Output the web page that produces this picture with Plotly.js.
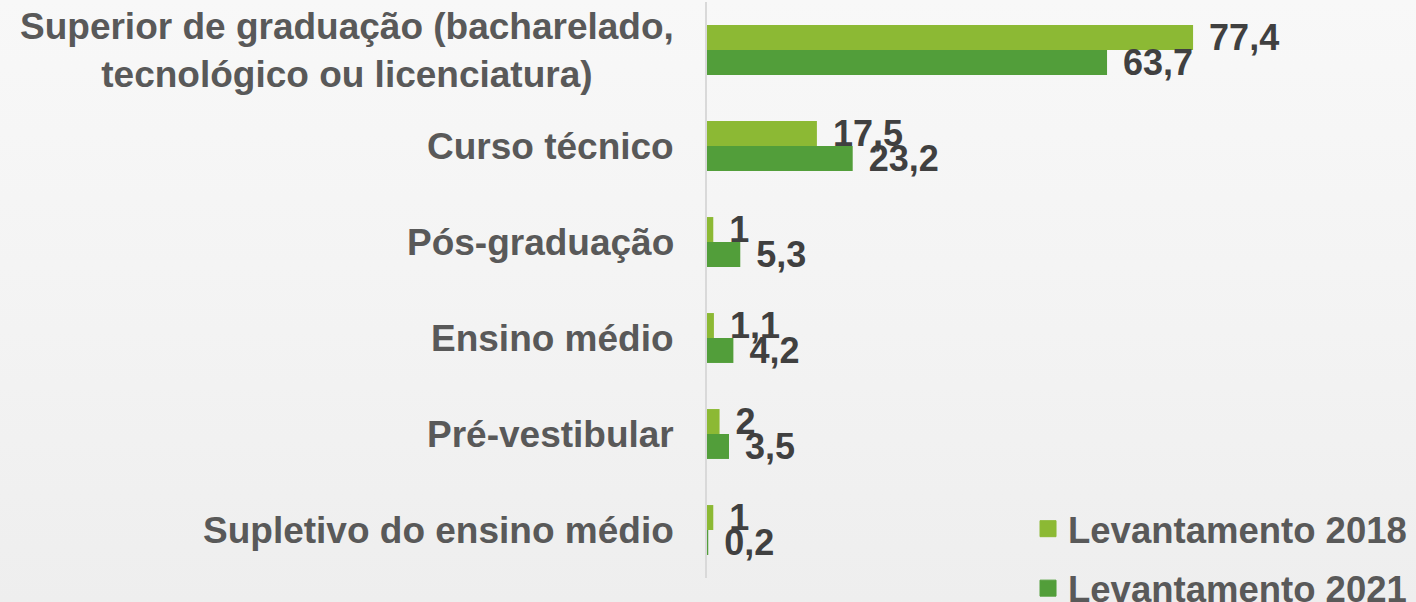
<!DOCTYPE html>
<html>
<head>
<meta charset="utf-8">
<script src="https://cdn.plot.ly/plotly-3.0.1.min.js"></script>
<style>
  html, body { margin: 0; padding: 0; }
  body { width: 1416px; height: 602px; background: linear-gradient(180deg, #f8f8f8 0%, #f3f3f3 55%, #eeeeee 100%); overflow: hidden; }
  #chart { width: 1416px; height: 602px; }
</style>
</head>
<body>
<div id="chart"></div>
<script>
const categories = [
  "Superior de graduação (bacharelado,<br>tecnológico ou licenciatura)",
  "Curso técnico",
  "Pós-graduação",
  "Ensino médio",
  "Pré-vestibular",
  "Supletivo do ensino médio"
];
const values2018 = [77.4, 17.5, 1, 1.1, 2, 1];
const values2021 = [63.7, 23.2, 5.3, 4.2, 3.5, 0.2];
const seriesNames = ["Levantamento 2018", "Levantamento 2021"];
const seriesColors = ["#8cb934", "#529e3a"];

const fmt = v => "\u00a0\u200a" + String(v).replace(".", ",");
const FONT = "Liberation Sans, Arial, sans-serif";

function barTrace(vals, i) {
  return {
    type: "bar",
    orientation: "h",
    name: seriesNames[i],
    y: categories,
    x: vals,
    marker: { color: seriesColors[i] },
    text: vals.map(fmt),
    textposition: "outside",
    constraintext: "none",
    cliponaxis: false,
    textfont: { family: FONT, size: 36, color: "#404040", weight: "bold" },
    showlegend: false,
    hoverinfo: "skip"
  };
}

function legendProxy(i) {
  return {
    type: "scatter", mode: "markers",
    name: seriesNames[i], legendgroup: "g" + i,
    x: [null], y: [null],
    marker: { symbol: "square", size: 16, color: seriesColors[i], line: { width: 1, color: seriesColors[i] } },
    showlegend: true, hoverinfo: "skip"
  };
}

const annotations = categories.map(c => ({
  xref: "paper", yref: "y", x: 0, y: c,
  xanchor: "right", yanchor: "middle",
  xshift: -31, align: "center",
  text: "<b>" + c + "</b>", showarrow: false,
  font: { family: FONT, size: 37, color: "#595959" }
}));

const layout = {
  width: 1416, height: 602,
  paper_bgcolor: "rgba(0,0,0,0)",
  plot_bgcolor: "rgba(0,0,0,0)",
  margin: { l: 707, r: 81, t: 2, b: 24, autoexpand: false },
  barmode: "group",
  bargap: 0.48,
  bargroupgap: 0,
  showlegend: true,
  legend: {
    xref: "container", yref: "container",
    x: 0.726, y: 0.172, xanchor: "left", yanchor: "top",
    bgcolor: "rgba(0,0,0,0)",
    traceorder: "grouped", tracegroupgap: 9,
    font: { family: FONT, size: 36.5, color: "#595959", weight: "bold" },
    itemclick: false
  },
  xaxis: {
    range: [0, 100], showgrid: false, zeroline: false,
    showticklabels: false, ticks: "", showline: false, fixedrange: true
  },
  yaxis: {
    autorange: "reversed", showgrid: false, zeroline: false,
    showticklabels: false, ticks: "", fixedrange: true,
    showline: true, linecolor: "#d9d9d9", linewidth: 2
  },
  annotations: annotations
};

Plotly.newPlot("chart", [barTrace(values2018, 0), barTrace(values2021, 1), legendProxy(0), legendProxy(1)], layout, { displayModeBar: false, staticPlot: true });
</script>
</body>
</html>
